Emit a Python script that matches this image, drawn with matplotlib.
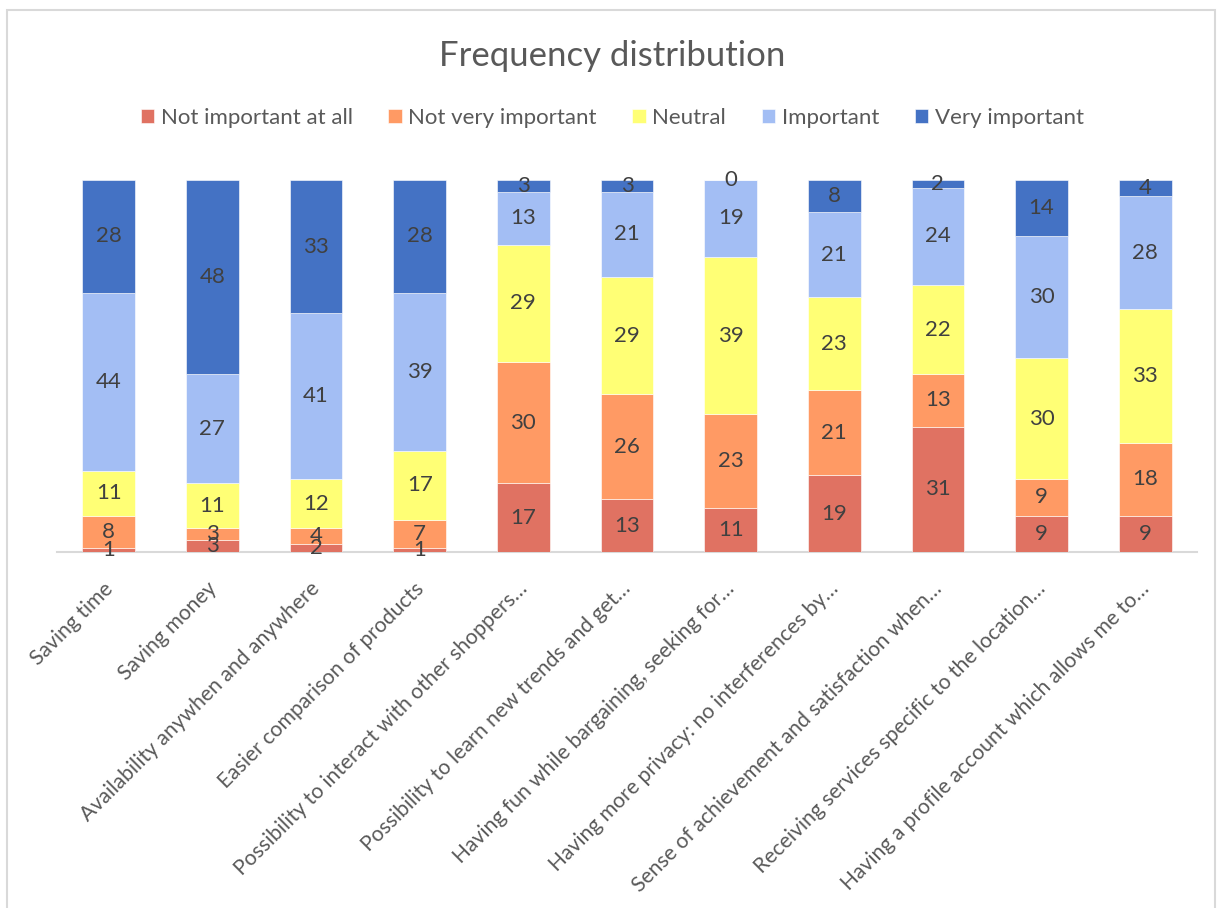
import numpy as np
import matplotlib
matplotlib.use("Agg")
import matplotlib.pyplot as plt
from matplotlib.patches import Rectangle
from matplotlib.transforms import ScaledTranslation

plt.rcParams["font.family"] = ["Lato", "DejaVu Sans"]

categories = [
    "Saving time",
    "Saving money",
    "Availability anywhen and anywhere",
    "Easier comparison of products",
    "Possibility to interact with other shoppers…",
    "Possibility to learn new trends and get…",
    "Having fun while bargaining, seeking for…",
    "Having more privacy: no interferences by…",
    "Sense of achievement and satisfaction when…",
    "Receiving services specific to the location…",
    "Having a profile account which allows me to…",
]

not_important_at_all = [1, 3, 2, 1, 17, 13, 11, 19, 31, 9, 9]
not_very_important = [8, 3, 4, 7, 30, 26, 23, 21, 13, 9, 18]
neutral = [11, 11, 12, 17, 29, 29, 39, 23, 22, 30, 33]
important = [44, 27, 41, 39, 13, 21, 19, 21, 24, 30, 28]
very_important = [28, 48, 33, 28, 3, 3, 0, 8, 2, 14, 4]

series = [
    ("Not important at all", not_important_at_all, "#E07262"),
    ("Not very important", not_very_important, "#FF9A64"),
    ("Neutral", neutral, "#FFFF75"),
    ("Important", important, "#A3BEF4"),
    ("Very important", very_important, "#4472C4"),
]

fig = plt.figure(figsize=(12.17, 9.08), dpi=100)
ax = fig.add_axes([0.0468, 0.392, 0.9368, 0.410])

# thin grey frame round the chart area
fig.patches.append(Rectangle((7 / 1217, -0.01), 1208 / 1217, 1 - 10 / 908 + 0.01,
                             transform=fig.transFigure, fill=False,
                             edgecolor="#D9D9D9", linewidth=1.5))

x = np.arange(len(categories))
bottom = np.zeros(len(categories))
for name, vals, color in series:
    vals = np.array(vals, dtype=float)
    ax.bar(x, vals, width=0.51, bottom=bottom, color=color, label=name,
           edgecolor="white", linewidth=0.4, zorder=2)
    for xi, b, v in zip(x, bottom, vals):
        ax.text(xi, b + v / 2, f"{int(v)}", ha="center", va="center",
                fontsize=16, color="#404040", zorder=3)
    bottom += vals

ax.set_xlim(-0.5, len(categories) - 0.5)
ax.set_ylim(0, 92)
ax.set_yticks([])
for side in ["left", "right", "top"]:
    ax.spines[side].set_visible(False)
ax.spines["bottom"].set_color("#D9D9D9")
ax.spines["bottom"].set_linewidth(1.5)
ax.spines["bottom"].set_zorder(1)

ax.set_xticks(x)
ax.set_xticklabels(categories, rotation=45, ha="right", fontsize=15.2,
                   color="#595959")
ax.tick_params(axis="x", length=0, pad=19)
shift = ScaledTranslation(8 / 100, 0, fig.dpi_scale_trans)
for lbl in ax.get_xticklabels():
    lbl.set_transform(lbl.get_transform() + shift)

fig.text(0.503, 0.938, "Frequency distribution", ha="center", va="center",
         fontsize=25, color="#595959")

fig.legend(loc="center", bbox_to_anchor=(0.503, 0.870), ncol=5, frameon=False,
           fontsize=16, handlelength=0.6, handleheight=0.6, handletextpad=0.3,
           columnspacing=1.6, labelcolor="#595959")

fig.savefig("out.png", dpi=100)
